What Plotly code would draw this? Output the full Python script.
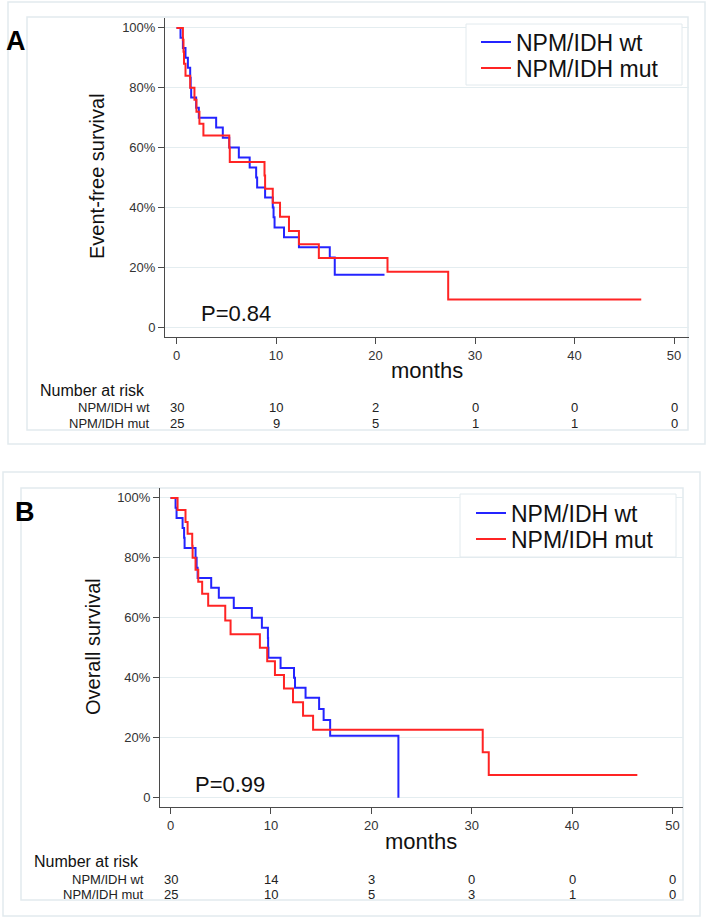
import plotly.graph_objects as go

# ---------------- data ----------------
months_ticks = [0, 10, 20, 30, 40, 50]
y_tick_vals = [0, 20, 40, 60, 80, 100]
y_tick_text = ["0", "20%", "40%", "60%", "80%", "100%"]
series_names = ["NPM/IDH wt", "NPM/IDH mut"]

# Panel A : event-free survival (months, % surviving after each step)
efs_wt_t = [0, 0.4, 0.64, 0.9, 1.14, 1.37, 1.42, 1.47, 1.97, 2.24, 3.98, 4.65, 5.3, 6.26, 7.35,
            8.0, 8.1, 8.9, 9.67, 9.75, 9.85, 10.8, 12.3, 15.4, 15.9, 20.9]
efs_wt_s = [100, 96.7, 93.3, 90.0, 86.7, 83.3, 80.0, 76.7, 73.3, 70.0, 66.7, 63.3, 60.0, 56.7, 53.3,
            50.0, 46.7, 43.3, 40.0, 36.7, 33.3, 30.0, 26.7, 23.3, 17.5, 17.5]
efs_mut_t = [0, 0.64, 0.7, 0.75, 0.9, 1.37, 1.8, 2.0, 2.3, 2.7, 5.3, 5.35, 8.84, 8.9, 9.67,
             10.4, 11.3, 12.3, 14.3, 21.2, 27.3, 46.7]
efs_mut_s = [100, 96, 92, 88, 84, 80, 76, 72, 68, 64, 60, 55.2, 50.7, 46.2, 41.6,
             36.9, 32.1, 27.7, 23.1, 18.5, 9.2, 9.2]

# Panel B : overall survival
os_wt_t = [0, 0.5, 0.6, 1.2, 1.35, 1.4, 2.49, 2.6, 2.7, 4.05, 4.81, 6.3, 8.1, 9.1, 9.7, 9.72,
           9.75, 10.96, 12.3, 12.4, 13.45, 14.8, 15.25, 15.9, 22.7]
os_wt_s = [100, 96.7, 93.3, 90.0, 86.7, 83.3, 80.0, 76.7, 73.3, 70.0, 66.7, 63.3, 60.0, 56.7, 53.3, 50.0,
           46.7, 43.3, 40.0, 36.7, 33.3, 29.6, 25.9, 20.7, 0]
os_mut_t = [0, 0.7, 1.49, 1.7, 2.16, 2.2, 2.49, 2.76, 3.15, 3.75, 5.45, 5.98, 8.9, 9.63, 10.4,
            11.3, 12.2, 13.2, 14.2, 31.1, 31.7, 46.5]
os_mut_s = [100, 96, 92, 88, 84, 80, 76, 72, 68, 64, 59.1, 54.5, 50.0, 45.5, 40.9,
            36.4, 31.8, 27.3, 22.7, 15.2, 7.6, 7.6]

risk_A_wt = [30, 10, 2, 0, 0, 0]
risk_A_mut = [25, 9, 5, 1, 1, 0]
risk_B_wt = [30, 14, 3, 0, 0, 0]
risk_B_mut = [25, 10, 5, 3, 1, 0]

p_A = "P=0.84"
p_B = "P=0.99"

# ---------------- styling ----------------
W, H = 709, 919
FONT = "Liberation Sans, Arial, sans-serif"
BLUE = "#2424ff"
RED = "#ff2424"
AX = "#4a4a4a"
GRID = "#e4edf0"
BOX = "#e2eaee"


def px(x):
    return x / W


def py(y):
    return 1 - y / H


fig = go.Figure()

fig.add_trace(go.Scatter(x=efs_wt_t, y=efs_wt_s, mode="lines", name=series_names[0],
                         line=dict(shape="hv", color=BLUE, width=2), xaxis="x", yaxis="y", legend="legend"))
fig.add_trace(go.Scatter(x=efs_mut_t, y=efs_mut_s, mode="lines", name=series_names[1],
                         line=dict(shape="hv", color=RED, width=2), xaxis="x", yaxis="y", legend="legend2"))
fig.add_trace(go.Scatter(x=os_wt_t, y=os_wt_s, mode="lines", name=series_names[0],
                         line=dict(shape="hv", color=BLUE, width=2), xaxis="x2", yaxis="y2", legend="legend3"))
fig.add_trace(go.Scatter(x=os_mut_t, y=os_mut_s, mode="lines", name=series_names[1],
                         line=dict(shape="hv", color=RED, width=2), xaxis="x2", yaxis="y2", legend="legend4"))

xcommon = dict(tickvals=months_ticks, showline=True, linecolor=AX, linewidth=1, ticks="outside",
               ticklen=6, tickcolor=AX, showgrid=False, zeroline=False,
               tickfont=dict(family=FONT, size=13, color="#333333"), fixedrange=True)
ycommon = dict(tickvals=y_tick_vals, ticktext=y_tick_text, showline=True, linecolor=AX, linewidth=1,
               ticks="outside", ticklen=6, tickcolor=AX, showgrid=True, gridcolor=GRID, gridwidth=1,
               zeroline=False, tickfont=dict(family=FONT, size=13, color="#333333"), fixedrange=True)


def leg(x, y):
    return dict(x=px(x), y=py(y), xanchor="left", yanchor="middle", bgcolor="rgba(0,0,0,0)",
                borderwidth=0, font=dict(family=FONT, size=23, color="#111111"), tracegroupgap=0)


fig.update_layout(
    width=W, height=H, margin=dict(l=0, r=0, t=0, b=0),
    paper_bgcolor="white", plot_bgcolor="white",
    font=dict(family=FONT, color="#111111"),
    xaxis=dict(domain=[px(165), px(689)], range=[-1.16, 51.5], anchor="y", **xcommon),
    yaxis=dict(domain=[py(337), py(18)], range=[-3.3, 103.3], anchor="x", **ycommon),
    xaxis2=dict(domain=[px(160), px(683)], range=[-1.05, 51.05], anchor="y2", **xcommon),
    yaxis2=dict(domain=[py(807), py(488)], range=[-3.1, 103.3], anchor="x2", **ycommon),
    legend=leg(476, 42),
    legend2=leg(476, 68),
    legend3=leg(471, 513),
    legend4=leg(471, 539),
    showlegend=True,
)

shapes = []
# panel frames
for (x0, y0, x1, y1) in [(8, 2, 705, 444), (27, 17, 688, 430), (3, 472, 700, 916), (21, 488, 683, 900)]:
    shapes.append(dict(type="rect", xref="paper", yref="paper", x0=px(x0), x1=px(x1), y0=py(y1), y1=py(y0),
                       line=dict(color=BOX, width=1.5), fillcolor="rgba(0,0,0,0)", layer="below"))
# legend boxes
for (x0, y0, x1, y1) in [(466, 24, 682, 85), (460, 494, 676, 557)]:
    shapes.append(dict(type="rect", xref="paper", yref="paper", x0=px(x0), x1=px(x1), y0=py(y1), y1=py(y0),
                       line=dict(color=BOX, width=1), fillcolor="white", layer="above"))
fig.update_layout(shapes=shapes)

ann = []


def text(x, y, s, size, xanchor="center", bold=False, angle=0, color="#111111"):
    ann.append(dict(x=px(x), y=py(y), xref="paper", yref="paper", text=s,
                    showarrow=False, xanchor=xanchor, yanchor="middle", textangle=angle,
                    font=dict(family=FONT, size=size, color=color,
                              weight="bold" if bold else "normal")))


# panel letters
text(16, 41, "A", 27, bold=True, color="black")
text(25, 512, "B", 27, bold=True, color="black")
# axis titles
text(97, 176, "Event-free survival", 20, angle=-90)
text(93, 647, "Overall survival", 20, angle=-90)
text(427, 370, "months", 22)
text(421, 841, "months", 22)
# p-values
text(199, 313, p_A, 22, xanchor="left")
text(193, 784, p_B, 22, xanchor="left")

# number at risk tables
RF = 13
text(38, 390, "Number at risk", 16, xanchor="left")
text(152, 408, series_names[0], RF, xanchor="right", color="#222222")
text(152, 423, series_names[1], RF, xanchor="right", color="#222222")
text(32, 861, "Number at risk", 16, xanchor="left")
text(146, 879, series_names[0], RF, xanchor="right", color="#222222")
text(146, 894, series_names[1], RF, xanchor="right", color="#222222")


def risk_row(axis, yy, vals):
    for m, v in zip(months_ticks, vals):
        ann.append(dict(x=m, y=py(yy), xref=axis, yref="paper", text=str(v), showarrow=False,
                        xanchor="center", yanchor="middle", font=dict(family=FONT, size=RF, color="#222222")))


risk_row("x", 408, risk_A_wt)
risk_row("x", 423, risk_A_mut)
risk_row("x2", 879, risk_B_wt)
risk_row("x2", 894, risk_B_mut)

fig.update_layout(annotations=ann)

fig.write_html("out.html")
